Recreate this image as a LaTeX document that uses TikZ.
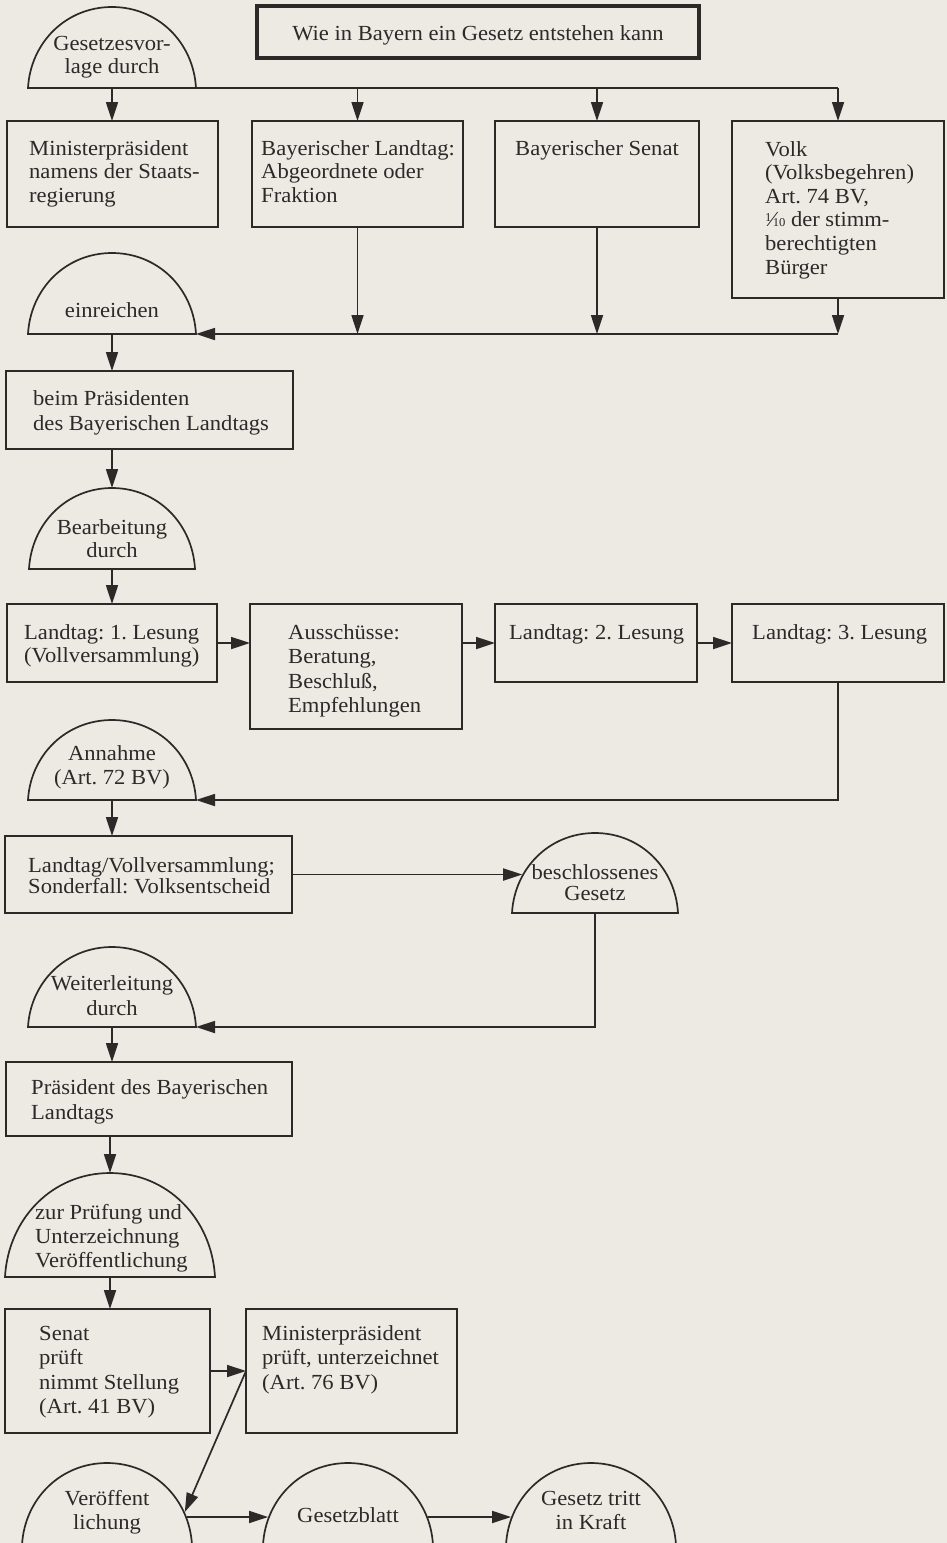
\documentclass[tikz,border=0pt]{standalone}
\usepackage{fontspec}
\setmainfont{Liberation Serif}[FakeStretch=1.05]
\usetikzlibrary{arrows.meta,calc}
\definecolor{paper}{HTML}{EDE9E3}
\definecolor{ink}{HTML}{2E2929}
\frenchspacing
\newcommand{\TL}[2][23.6]{{\fontsize{21.5}{#1}\selectfont\frenchspacing\begin{tabular}[t]{@{}l@{}}#2\end{tabular}}}
\newcommand{\TC}[2][23.6]{{\fontsize{21.5}{#1}\selectfont\frenchspacing\begin{tabular}[t]{@{}c@{}}#2\end{tabular}}}
\newcommand{\tenth}{\raisebox{5.5pt}{\fontsize{12}{12}\selectfont 1}\kern-1pt⁄\kern-1.5pt{\fontsize{12}{12}\selectfont 10}}
% dome: name, cx, base y, half width, height
\newcommand{\dome}[5]{%
  \coordinate (#1-top) at (#2,#3-#5);
  \coordinate (#1-base) at (#2,#3);
  \coordinate (#1-l) at (#2-#4,#3);
  \coordinate (#1-r) at (#2+#4,#3);
  \draw[ln] (#1-l) .. controls ({#2-0.97*#4},{#3-0.56*#5}) and ({#2-0.55*#4},{#3-#5}) .. (#1-top)
     .. controls ({#2+0.55*#4},{#3-#5}) and ({#2+0.97*#4},{#3-0.56*#5}) .. (#1-r) -- cycle;}
% point on a dome side: new name, cx, base y, half width, height, y, sign
\newcommand{\domeside}[7]{%
  \coordinate (#1) at ({#2+(#7)*#4*sqrt(1-((#3-#6)/#5)^2)},#6);}
\begin{document}
\begin{tikzpicture}[x=1pt,y=-1pt,
  ln/.style={draw=ink,line width=1.7pt},
  arr/.style={ln,-{Triangle[length=19pt,width=12pt]}},
  bx/.style={ln,rectangle,inner sep=0pt,outer sep=0pt,anchor=north west},
  tt/.style={inner sep=0pt,text=ink},
  tl/.style={tt,anchor=base west},
  tc/.style={tt,anchor=base}]
\useasboundingbox (0,0) rectangle (947,1543);
\clip (0,0) rectangle (947,1543);
\fill[paper] (0,0) rectangle (947,1543);

% ---- boxes
\node[bx,line width=3.4pt,minimum width=442,minimum height=52] (title) at (257,6) {};
\node[tc] (titleT) at (478,40) {\TC{Wie in Bayern ein Gesetz entstehen kann}};

\node[bx,minimum width=211,minimum height=106] (mp) at (7,121) {};
\node[bx,minimum width=211,minimum height=106] (ltag) at (252,121) {};
\node[bx,minimum width=204,minimum height=106] (sen) at (495,121) {};
\node[bx,minimum width=212,minimum height=177] (volk) at (732,121) {};
\node[tl] (mpT) at (29,155) {\TL{Ministerpräsident\\namens der Staats-\\regierung}};
\node[tl] (ltagT) at (261,155) {\TL{Bayerischer Landtag:\\Abgeordnete oder\\Fraktion}};
\node[tl] (senT) at (515,155) {\TL{Bayerischer Senat}};
\node[tl] (volkT) at (765,156) {\TL{Volk\\(Volksbegehren)\\Art. 74 BV,\\\tenth{} der stimm-\\berechtigten\\Bürger}};

\node[bx,minimum width=287,minimum height=78] (beim) at (6,371) {};
\node[tl] (beimT) at (33,405) {\TL[25]{beim Präsidenten\\des Bayerischen Landtags}};

\node[bx,minimum width=210,minimum height=78] (l1) at (7,604) {};
\node[bx,minimum width=212,minimum height=125] (aus) at (250,604) {};
\node[bx,minimum width=202,minimum height=78] (l2) at (495,604) {};
\node[bx,minimum width=212,minimum height=78] (l3) at (732,604) {};
\node[tl] (l1T) at (24,639) {\TL{Landtag: 1. Lesung\\(Vollversammlung)}};
\node[tl] (ausT) at (288,639) {\TL[24.5]{Ausschüsse:\\Beratung,\\Beschluß,\\Empfehlungen}};
\node[tl] (l2T) at (509,639) {\TL{Landtag: 2. Lesung}};
\node[tl] (l3T) at (752,639) {\TL{Landtag: 3. Lesung}};

\node[bx,minimum width=287,minimum height=77] (lv) at (5,836) {};
\node[tl] (lvT) at (28,872) {\TL[21]{Landtag/Vollversammlung;\\Sonderfall: Volksentscheid}};

\node[bx,minimum width=286,minimum height=74] (pr) at (6,1062) {};
\node[tl] (prT) at (31,1094) {\TL[25]{Präsident des Bayerischen\\Landtags}};

\node[bx,minimum width=205,minimum height=124] (sn) at (5,1309) {};
\node[bx,minimum width=211,minimum height=124] (mp2) at (246,1309) {};
\node[tl] (snT) at (39,1340) {\TL[24.5]{Senat\\prüft\\nimmt Stellung\\(Art. 41 BV)}};
\node[tl] (mp2T) at (262,1340) {\TL[24.5]{Ministerpräsident\\prüft, unterzeichnet\\(Art. 76 BV)}};

% ---- domes
\dome{g1}{112}{88}{84}{81}
\node[tc] (g1T) at (112,50) {\TC{Gesetzesvor-\\lage durch}};
\dome{g2}{112}{334}{84}{81}
\node[tc] (g2T) at (112,317) {\TC{einreichen}};
\dome{g3}{112}{569}{83}{81}
\node[tc] (g3T) at (112,534) {\TC{Bearbeitung\\durch}};
\dome{g4}{112}{800}{84}{80}
\node[tc] (g4T) at (112,760) {\TC[24.5]{Annahme\\(Art. 72 BV)}};
\dome{g5}{595}{913}{83}{80}
\node[tc] (g5T) at (595,879) {\TC[21]{beschlossenes\\Gesetz}};
\dome{g6}{112}{1027}{84}{80}
\node[tc] (g6T) at (112,990) {\TC[25]{Weiterleitung\\durch}};
\dome{g7}{110}{1277}{105}{104}
\node[tl] (g7T) at (35,1219) {\TL[24.2]{zur Prüfung und\\Unterzeichnung\\Veröffentlichung}};
\dome{g8}{107}{1545}{85}{82}
\node[tc] (g8T) at (107,1505) {\TC[24.5]{Veröffent\\lichung}};
\dome{g9}{348}{1545}{85}{82}
\node[tc] (g9T) at (348,1522) {\TC{Gesetzblatt}};
\dome{g10}{591}{1545}{85}{82}
\node[tc] (g10T) at (591,1505) {\TC[24.5]{Gesetz tritt\\in Kraft}};

\domeside{g5-in}{595}{913}{83}{80}{874.5}{-1}
\domeside{g8-d}{107}{1545}{85}{82}{1512}{1}
\domeside{g8-o}{107}{1545}{85}{82}{1517}{1}
\domeside{g9-i}{348}{1545}{85}{82}{1517}{-1}
\domeside{g9-o}{348}{1545}{85}{82}{1517}{1}
\domeside{g10-i}{591}{1545}{85}{82}{1517}{-1}

% ---- connectors
\draw[ln] (g1-r) -- (g1-r -| volk.north);
\draw[arr] (g1-base) -- (g1-base |- mp.north);
\draw[arr] (ltag.north |- g1-base) -- (ltag.north);
\draw[arr] (sen.north |- g1-base) -- (sen.north);
\draw[arr] (volk.north |- g1-base) -- (volk.north);

\draw[arr] (ltag.south) -- (ltag.south |- g2-base);
\draw[arr] (sen.south) -- (sen.south |- g2-base);
\draw[arr] (volk.south) -- (volk.south |- g2-base);
\draw[arr] (volk.south |- g2-base) -- (g2-r);

\draw[arr] (g2-base) -- (g2-base |- beim.north);
\draw[arr] (g3-top |- beim.south) -- (g3-top);
\draw[arr] (g3-base) -- (g3-base |- l1.north);

\draw[arr] (l1.east) -- (l1.east -| aus.west);
\draw[arr] (l2.west -| aus.east) -- (l2.west);
\draw[arr] (l2.east) -- (l3.west);

\draw[arr] (l3.south) |- (g4-r);
\draw[arr] (g4-base) -- (g4-base |- lv.north);
\draw[arr] (lv.east) -- (g5-in);
\draw[arr] (g5-base) |- (g6-r);
\draw[arr] (g6-base) -- (g6-base |- pr.north);
\draw[arr] (g7-top |- pr.south) -- (g7-top);
\draw[arr] (g7-base) -- (g7-base |- sn.north);
\draw[arr] (sn.east) -- (sn.east -| mp2.west);
\draw[arr] (mp2.west) -- (g8-d);
\draw[arr] (g8-o) -- (g9-i);
\draw[arr] (g9-o) -- (g10-i);
\end{tikzpicture}
\end{document}
